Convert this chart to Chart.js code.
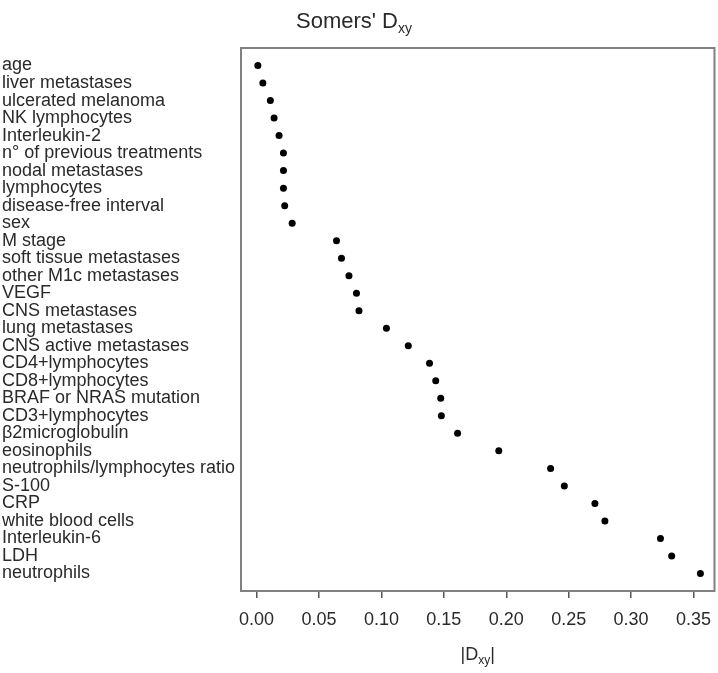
<!DOCTYPE html>
<html>
<head>
<meta charset="utf-8">
<script src="https://cdn.jsdelivr.net/npm/chart.js@4.4.1/dist/chart.umd.min.js"></script>
<style>
  html, body { margin: 0; padding: 0; background: #fff; }
  #wrap { width: 718px; height: 673px; position: relative; }
</style>
</head>
<body>
<div id="wrap"><canvas id="c" width="718" height="673"></canvas></div>
<script>
const categories = [
  "age", "liver metastases", "ulcerated melanoma", "NK lymphocytes", "Interleukin-2",
  "n° of previous treatments", "nodal metastases", "lymphocytes", "disease-free interval", "sex",
  "M stage", "soft tissue metastases", "other M1c metastases", "VEGF", "CNS metastases",
  "lung metastases", "CNS active metastases", "CD4+lymphocytes", "CD8+lymphocytes", "BRAF or NRAS mutation",
  "CD3+lymphocytes", "\u03B22microglobulin", "eosinophils", "neutrophils/lymphocytes ratio", "S-100",
  "CRP", "white blood cells", "Interleukin-6", "LDH", "neutrophils"
];
const dxyValues = [
  0.001, 0.005, 0.011, 0.014, 0.018,
  0.0215, 0.0215, 0.0215, 0.0225, 0.0285,
  0.064, 0.068, 0.074, 0.080, 0.082,
  0.104, 0.1215, 0.1385, 0.1435, 0.1475,
  0.148, 0.161, 0.194, 0.2355, 0.2465,
  0.271, 0.279, 0.3235, 0.3325, 0.3555
];
const xTickValues = [0.00, 0.05, 0.10, 0.15, 0.20, 0.25, 0.30, 0.35];
const titleMain = "Somers' D";
const titleSub = "xy";
const xTitleMain = "|D";
const xTitleSub = "xy";
const xTitleEnd = "|";

const FONT = "'Liberation Sans', Arial, sans-serif";
const TEXT = "#2a2a2a";

const points = dxyValues.map((v, i) => ({ x: v, y: i }));

const framePlugin = {
  id: 'framePlugin',
  beforeDatasetsDraw(chart) {
    const a = chart.chartArea;
    const ctx = chart.ctx;
    ctx.save();
    ctx.strokeStyle = '#808080';
    ctx.lineWidth = 2;
    ctx.strokeRect(a.left, a.top, a.right - a.left, a.bottom - a.top);
    ctx.restore();
  },
  afterDraw(chart) {
    const a = chart.chartArea;
    const ctx = chart.ctx;
    ctx.save();
    ctx.fillStyle = TEXT;
    ctx.textBaseline = 'alphabetic';
    // title
    ctx.font = "22px " + FONT;
    const w1 = ctx.measureText(titleMain).width;
    ctx.font = "14px " + FONT;
    const w2 = ctx.measureText(titleSub).width;
    let x0 = 354 - (w1 + w2) / 2;
    ctx.font = "22px " + FONT;
    ctx.textAlign = 'left';
    ctx.fillText(titleMain, x0, 28);
    ctx.font = "14px " + FONT;
    ctx.fillText(titleSub, x0 + w1, 33);
    // x axis title
    ctx.font = "18px " + FONT;
    const a1 = ctx.measureText(xTitleMain).width;
    const a3 = ctx.measureText(xTitleEnd).width;
    ctx.font = "12px " + FONT;
    const a2 = ctx.measureText(xTitleSub).width;
    const cx = (a.left + a.right) / 2;
    let xs = cx - (a1 + a2 + a3) / 2;
    ctx.font = "18px " + FONT;
    ctx.fillText(xTitleMain, xs, 660);
    ctx.font = "12px " + FONT;
    ctx.fillText(xTitleSub, xs + a1, 664);
    ctx.font = "18px " + FONT;
    ctx.fillText(xTitleEnd, xs + a1 + a2, 660);
    ctx.restore();
  }
};

new Chart(document.getElementById('c'), {
  type: 'scatter',
  data: {
    datasets: [{
      data: points,
      backgroundColor: '#000',
      borderColor: '#000',
      pointRadius: 3.5,
      pointHoverRadius: 3.5,
      borderWidth: 0
    }]
  },
  options: {
    responsive: false,
    animation: false,
    events: [],
    layout: { padding: { left: 2, right: 1, top: 48, bottom: 0 } },
    plugins: {
      legend: { display: false },
      tooltip: { enabled: false },
      title: { display: false }
    },
    scales: {
      x: {
        type: 'linear',
        min: -0.0125,
        max: 0.3668,
        afterBuildTicks(scale) {
          scale.ticks = xTickValues.map(v => ({ value: v }));
        },
        afterFit(scale) {
          scale.height = 82;
          scale.paddingLeft = 0;
          scale.paddingRight = 0;
        },
        grid: { display: true, drawOnChartArea: false, drawTicks: true, tickLength: 7, color: '#555', lineWidth: 1.5 },
        border: { display: false },
        ticks: {
          color: TEXT,
          font: { size: 18, family: FONT },
          padding: 11,
          maxRotation: 0,
          autoSkip: false,
          callback: (v) => Number(v).toFixed(2)
        }
      },
      y: {
        type: 'linear',
        reverse: true,
        min: -1,
        max: 30,
        afterBuildTicks(scale) {
          scale.ticks = categories.map((c, i) => ({ value: i }));
        },
        afterFit(scale) {
          scale.width = 239;
          scale.paddingTop = 0;
          scale.paddingBottom = 0;
        },
        grid: { display: false },
        border: { display: false },
        ticks: {
          color: TEXT,
          font: { size: 18, family: FONT },
          crossAlign: 'far',
          autoSkip: false,
          padding: 0,
          callback: (v) => categories[v] !== undefined ? categories[v] : ''
        }
      }
    }
  },
  plugins: [framePlugin]
});
</script>
</body>
</html>
